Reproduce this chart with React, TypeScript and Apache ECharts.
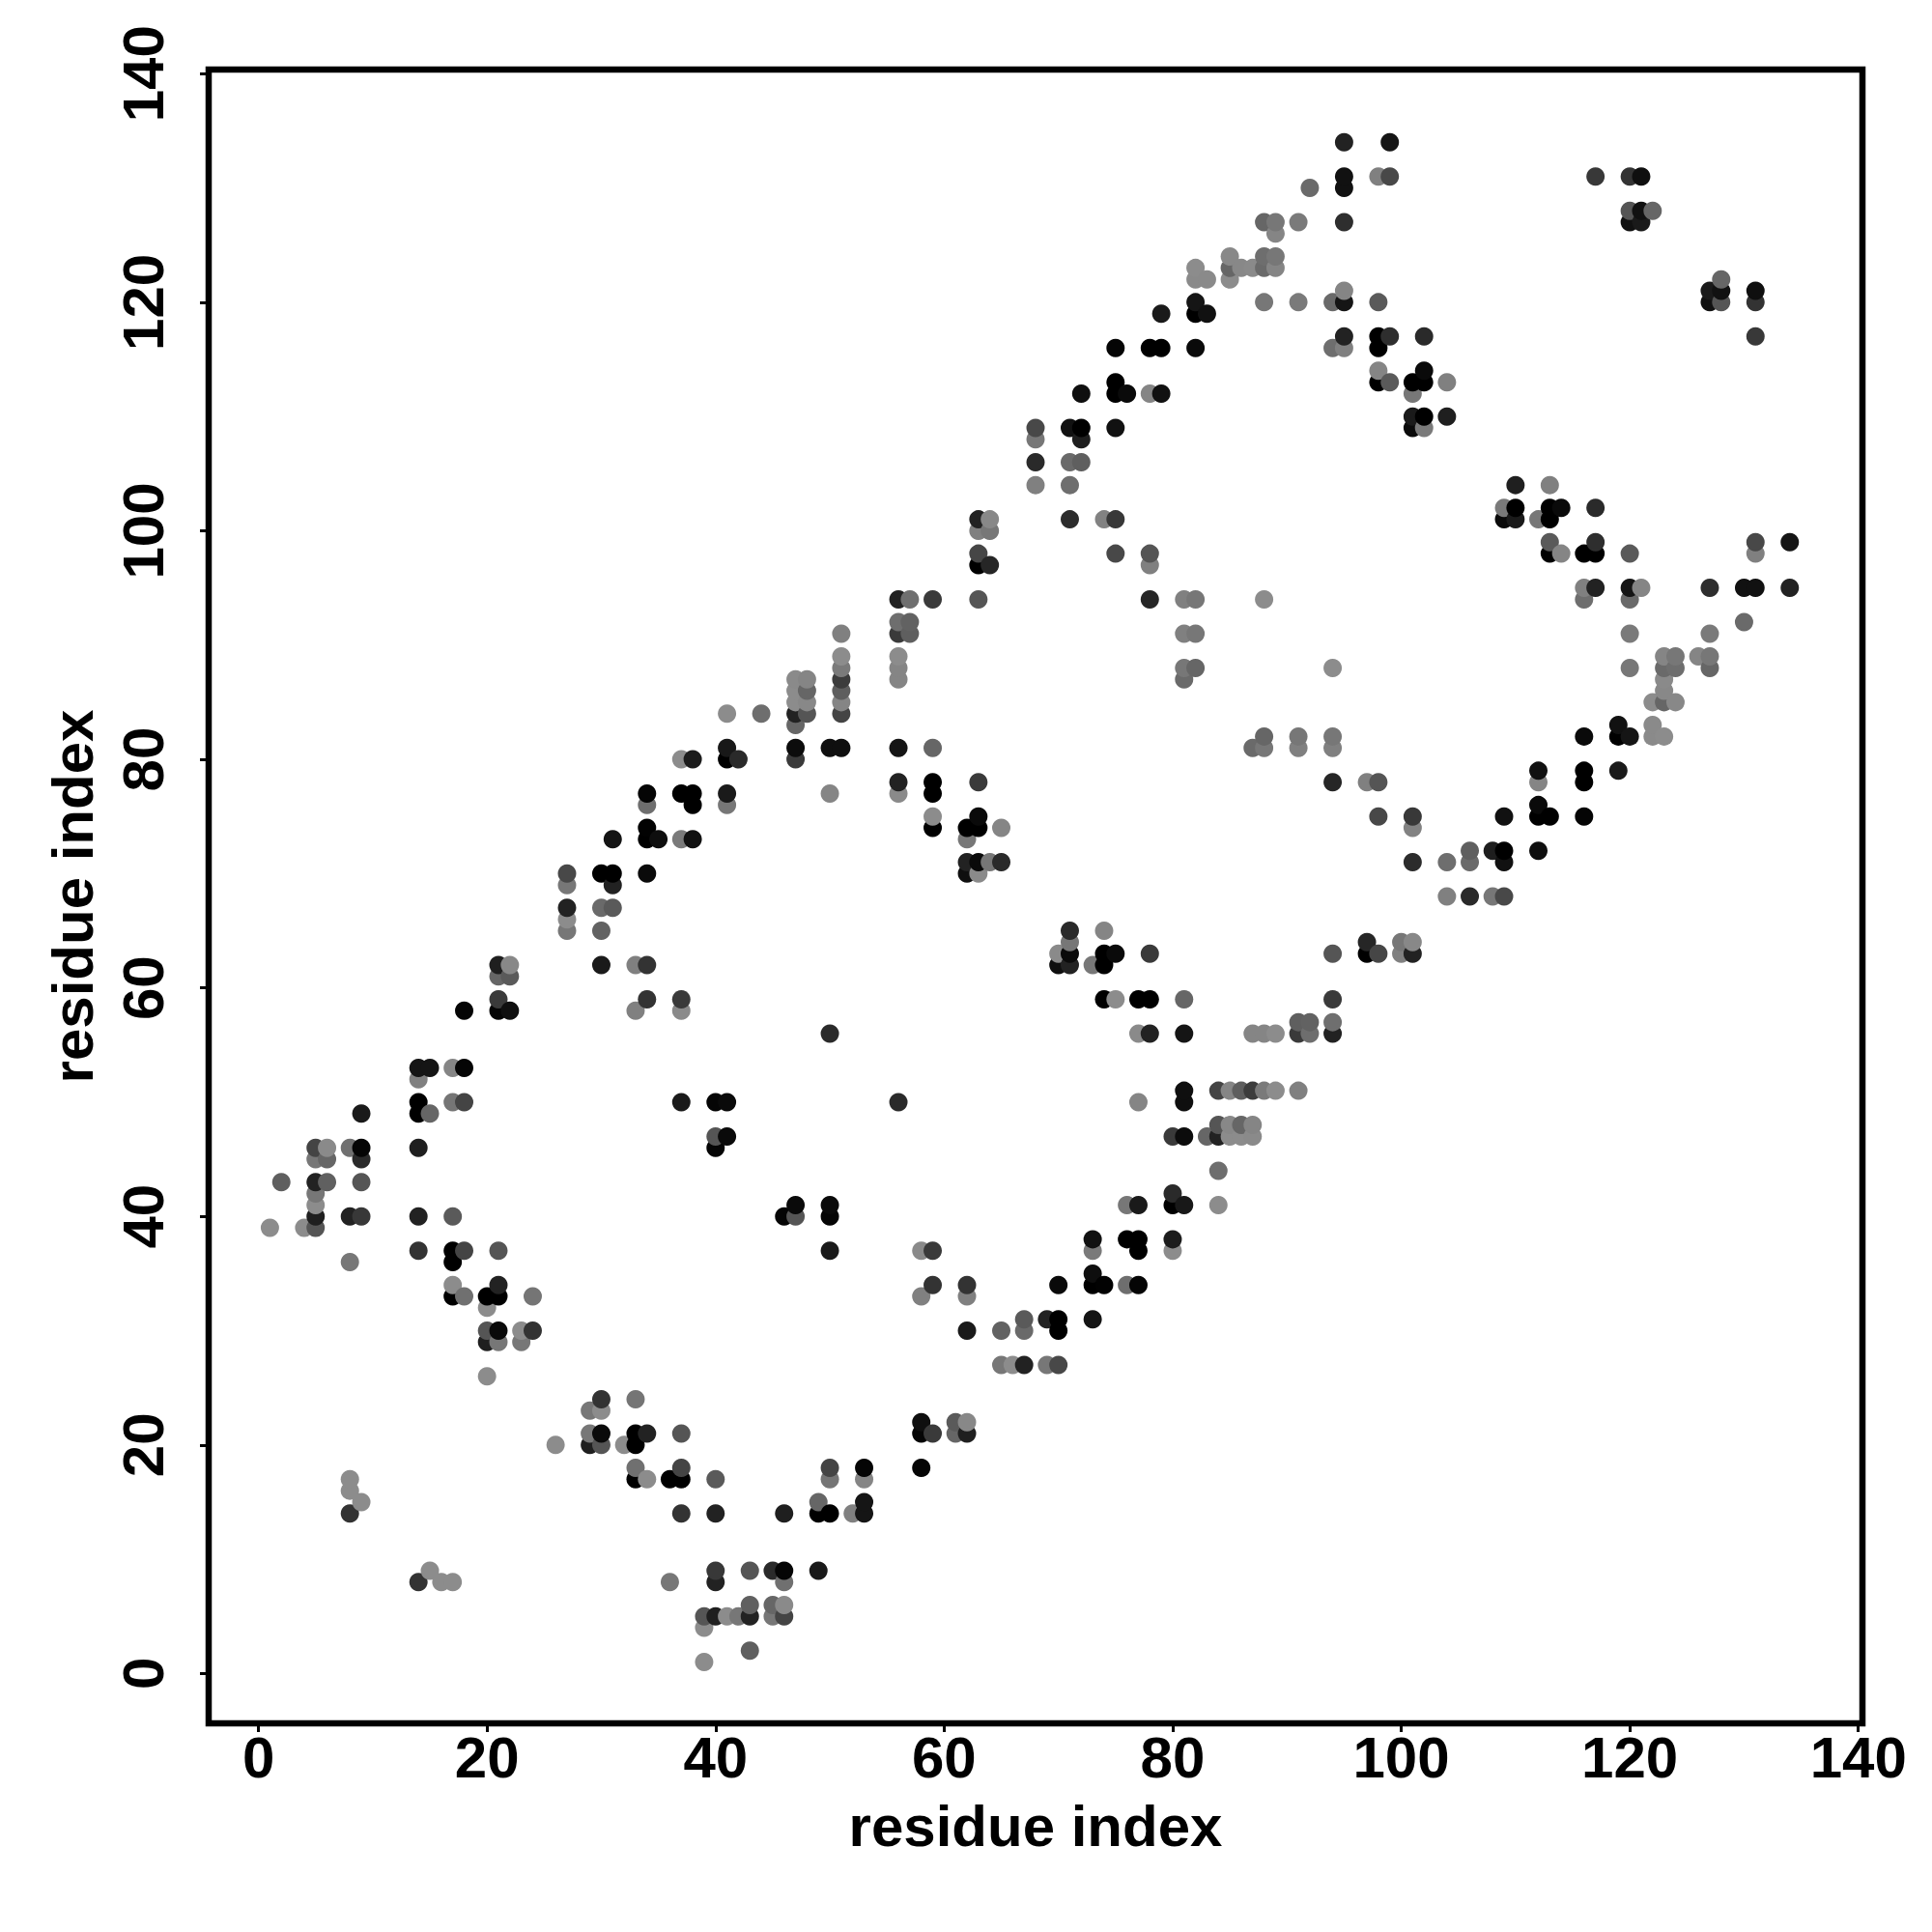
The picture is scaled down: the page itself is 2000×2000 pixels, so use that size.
import React, { useEffect, useRef } from "react";
import * as echarts from "echarts";

type Contact = [number, number, number]; // residue i, residue j (i < j), grey level 0..255

const tickValues = [0, 20, 40, 60, 80, 100, 120, 140];
const axisLabelText = "residue index";

const contactsA: Contact[] = [
  [1, 39, 140], [2, 43, 95], [4, 39, 140],
  [5, 39, 85], [5, 40, 31], [5, 41, 140], [5, 42, 119], [5, 43, 34], [5, 45, 119], [5, 46, 68],
  [6, 43, 96], [6, 45, 102], [6, 46, 138],
  [8, 14, 51], [8, 16, 140], [8, 17, 140], [8, 36, 119], [8, 40, 34], [8, 46, 112],
  [9, 15, 140], [9, 40, 56], [9, 43, 85], [9, 45, 42], [9, 46, 5], [9, 49, 26],
];
const contactsB: Contact[] = [
  [14, 37, 51], [14, 40, 34], [14, 46, 31], [14, 49, 0], [14, 50, 0], [14, 52, 128], [14, 53, 21],
  [15, 49, 102], [15, 53, 21],
  [17, 33, 0], [17, 34, 140], [17, 36, 0], [17, 37, 0], [17, 40, 90], [17, 50, 117], [17, 53, 133],
  [18, 33, 112], [18, 37, 68], [18, 50, 68], [18, 53, 5], [18, 58, 5],
  [20, 26, 140], [20, 29, 31], [20, 30, 85], [20, 32, 140], [20, 33, 0],
  [21, 29, 119], [21, 30, 10], [21, 33, 0], [21, 34, 34], [21, 37, 85], [21, 58, 5], [21, 59, 58], [21, 61, 102], [21, 62, 31],
  [22, 58, 15], [22, 61, 90], [22, 62, 136],
  [23, 29, 119], [23, 30, 140], [24, 30, 51], [24, 33, 117],
];
const contactsC: Contact[] = [
  [27, 65, 119], [27, 66, 140], [27, 67, 34], [27, 69, 119], [27, 70, 72],
  [30, 62, 26], [30, 65, 98], [30, 67, 106], [30, 70, 0],
  [31, 67, 90], [31, 69, 34], [31, 70, 0], [31, 73, 20],
  [33, 58, 128], [33, 62, 128],
  [34, 59, 51], [34, 62, 51], [34, 70, 10], [34, 73, 0], [34, 74, 2], [34, 76, 110], [34, 77, 5],
  [35, 73, 14],
  [37, 50, 26], [37, 58, 138], [37, 59, 58], [37, 73, 122], [37, 77, 0], [37, 80, 140],
  [38, 73, 17], [38, 76, 0], [38, 77, 0], [38, 80, 28],
];
const contactsD: Contact[] = [
  [40, 46, 5], [40, 47, 85], [40, 50, 5],
  [41, 47, 10], [41, 50, 10], [41, 76, 119], [41, 77, 26], [41, 80, 0], [41, 81, 24], [41, 84, 140],
  [42, 80, 42], [44, 84, 110],
  [47, 80, 58], [47, 81, 12], [47, 83, 102], [47, 84, 34], [47, 85, 140], [47, 86, 140], [47, 87, 138],
  [48, 84, 85], [48, 85, 136], [48, 86, 102], [48, 87, 133],
  [50, 56, 42], [50, 77, 133], [50, 81, 15],
  [51, 81, 15], [51, 84, 68], [51, 85, 133], [51, 86, 94], [51, 87, 60], [51, 88, 122], [51, 89, 140], [51, 91, 128],
];
const contactsE: Contact[] = [
  [56, 77, 138], [56, 78, 34], [56, 81, 21], [56, 87, 133], [56, 88, 133], [56, 89, 140], [56, 91, 58], [56, 92, 110], [56, 94, 34],
  [57, 91, 95], [57, 92, 98], [57, 94, 111],
  [59, 74, 0], [59, 75, 140], [59, 77, 0], [59, 78, 0], [59, 81, 102], [59, 94, 58],
  [62, 70, 15], [62, 71, 34], [62, 73, 119], [62, 74, 0],
  [63, 70, 138], [63, 71, 10], [63, 74, 0], [63, 75, 10], [63, 78, 58], [63, 94, 85], [63, 97, 0], [63, 98, 70], [63, 100, 128], [63, 101, 34],
  [64, 71, 119], [64, 97, 38], [64, 100, 119], [64, 101, 136],
  [65, 71, 42], [65, 74, 133],
];
const contactsF: Contact[] = [
  [68, 104, 128], [68, 106, 42], [68, 108, 119], [68, 109, 72],
  [71, 101, 44], [71, 104, 110], [71, 106, 106], [71, 109, 17],
  [72, 106, 95], [72, 108, 30], [72, 109, 0], [72, 112, 15],
  [74, 101, 130],
  [75, 98, 72], [75, 101, 56], [75, 109, 17], [75, 112, 0], [75, 113, 0], [75, 116, 5],
  [76, 112, 10],
  [78, 94, 38], [78, 97, 128], [78, 98, 85], [78, 112, 133], [78, 116, 0],
  [79, 112, 17], [79, 116, 0], [79, 119, 26],
];
const contactsG: Contact[] = [
  [81, 87, 106], [81, 88, 119], [81, 91, 128], [81, 94, 128],
  [82, 88, 102], [82, 91, 119], [82, 94, 119], [82, 116, 10], [82, 119, 0], [82, 120, 21], [82, 122, 138], [82, 123, 140],
  [83, 119, 17], [83, 122, 138],
  [85, 122, 140], [85, 123, 102], [85, 124, 136], [86, 123, 136], [87, 123, 138],
  [88, 94, 140], [88, 120, 119], [88, 123, 106], [88, 124, 110], [88, 127, 102],
  [89, 123, 133], [89, 124, 119], [89, 126, 133], [89, 127, 119],
  [91, 120, 122], [91, 127, 122], [92, 130, 106],
  [94, 116, 110], [94, 120, 106],
  [95, 116, 128], [95, 117, 34], [95, 120, 21], [95, 121, 133], [95, 127, 46], [95, 130, 17], [95, 131, 17], [95, 134, 34],
];
const contactsH: Contact[] = [
  [98, 113, 0], [98, 114, 133], [98, 116, 0], [98, 117, 0], [98, 120, 90], [98, 131, 128],
  [99, 113, 90], [99, 117, 46], [99, 131, 72], [99, 134, 21],
  [101, 109, 10], [101, 110, 26], [101, 112, 119], [101, 113, 0],
  [102, 109, 122], [102, 110, 0], [102, 113, 0], [102, 114, 10], [102, 117, 42],
  [104, 110, 31], [104, 113, 128],
  [117, 131, 56], [120, 127, 17], [120, 128, 85], [120, 131, 51],
  [121, 127, 26], [121, 128, 17], [121, 131, 15],
  [122, 128, 102],
];

const upper = [...contactsA, ...contactsB, ...contactsC, ...contactsD, ...contactsE, ...contactsF, ...contactsG, ...contactsH];

// The map is symmetric: each contact appears at (i, j) and (j, i). Painted in x, then y order.
const points = upper
  .flatMap(([i, j, g]) => [[i, j, g], [j, i, g]])
  .sort((a, b) => a[0] - b[0] || a[1] - b[1])
  .map(([x, y, g]) => ({
    value: [x, y],
    itemStyle: { color: `rgb(${g},${g},${g})` },
  }));

const FONT = "Liberation Sans";

const makeAxis = (nameGap: number, margin: number, rotate: number) => ({
  type: "value",
  min: -4.36,
  max: 140.36,
  name: axisLabelText,
  nameLocation: "middle",
  nameGap,
  nameTextStyle: { fontFamily: FONT, fontWeight: "bold", fontSize: 60, color: "#000" },
  splitLine: { show: false },
  axisLine: { show: false, onZero: false },
  axisTick: { show: true, length: 9, customValues: tickValues, lineStyle: { width: 3, color: "#000" } },
  axisLabel: {
    show: true,
    customValues: tickValues,
    rotate,
    margin,
    hideOverlap: false,
    fontFamily: FONT,
    fontWeight: "bold",
    fontSize: 60,
    color: "#000",
  },
});

export default function App() {
  const ref = useRef<HTMLDivElement>(null);
  useEffect(() => {
    document.body.style.margin = "0";
    const chart = echarts.init(ref.current!, undefined, { renderer: "svg" });
    chart.setOption({
      animation: false,
      backgroundColor: "#fff",
      grid: {
        show: true,
        left: 216,
        top: 72,
        width: 1712,
        height: 1712,
        borderColor: "#000",
        borderWidth: 6.5,
        backgroundColor: "transparent",
      },
      xAxis: makeAxis(76, 5, 0),
      yAxis: makeAxis(111, 38, 90),
      series: [
        {
          type: "scatter",
          symbol: "circle",
          symbolSize: 19,
          data: points,
          clip: false,
          itemStyle: { opacity: 1 },
        },
      ],
    });
    return () => chart.dispose();
  }, []);
  return <div ref={ref} style={{ width: 2000, height: 2000 }} />;
}
